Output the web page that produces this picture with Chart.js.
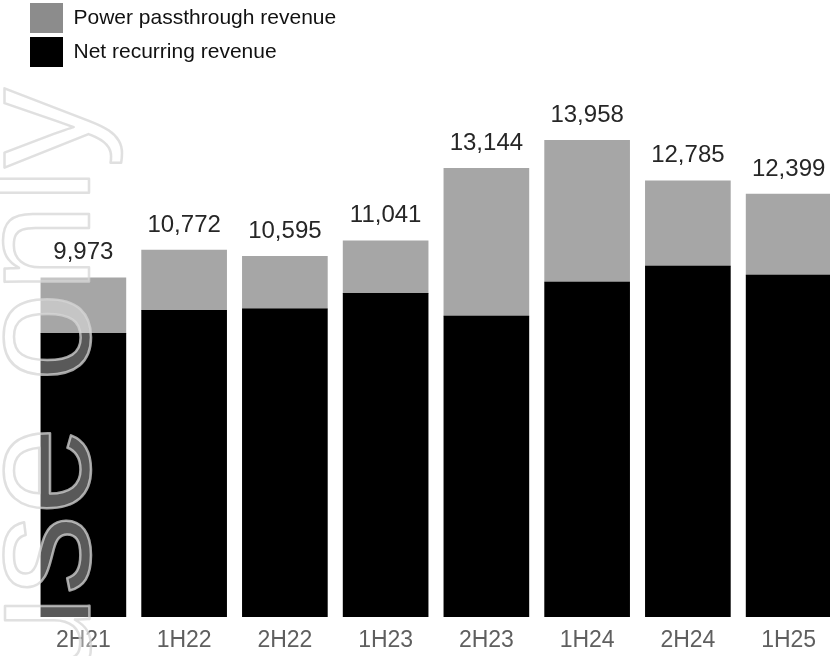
<!DOCTYPE html>
<html>
<head>
<meta charset="utf-8">
<script src="https://cdn.jsdelivr.net/npm/chart.js@4"></script>
<style>
  html, body { margin: 0; padding: 0; background: #fff; overflow: hidden; }
  .chart-wrap { position: relative; width: 840px; height: 656px; }
</style>
</head>
<body>
<div class="chart-wrap"><canvas class="chart-js"></canvas></div>
<script>
const canvas = document.querySelector('.chart-js').getContext('2d');

const periods = ['2H21', '1H22', '2H22', '1H23', '2H23', '1H24', '2H24', '1H25'];
const netRecurring = [8360, 9030, 9070, 9520, 8860, 9850, 10310, 10050];
const powerPassthrough = [1613, 1742, 1525, 1521, 4284, 4108, 2475, 2349];

const FONT = "'Liberation Sans', Arial, Helvetica, sans-serif";

// totals written above each stack
const totalLabels = {
  id: 'totalLabels',
  afterDatasetsDraw(chart) {
    const { ctx } = chart;
    const top = chart.getDatasetMeta(chart.data.datasets.length - 1);
    ctx.save();
    ctx.font = '24px ' + FONT;
    ctx.fillStyle = '#262626';
    ctx.textAlign = 'center';
    ctx.textBaseline = 'alphabetic';
    top.data.forEach((bar, i) => {
      const sum = chart.data.datasets.reduce((acc, ds) => acc + ds.data[i], 0);
      ctx.fillText(sum.toLocaleString('en-US'), bar.x, bar.y - 18.5);
    });
    ctx.restore();
  },
};

// legend sits inside the plot area, nudged to the left margin
const legendNudge = {
  id: 'legendNudge',
  afterLayout(chart) {
    const lg = chart.legend;
    if (!lg) return;
    lg.left -= 7;
    lg.right -= 7;
    lg.top -= 1;
    lg.bottom -= 1;
  },
};

const watermark = {
  id: 'watermark',
  afterDraw(chart) {
    const { ctx } = chart;
    ctx.save();
    ctx.translate(89, 88);
    ctx.rotate(-Math.PI / 2);
    ctx.font = '160px ' + FONT;
    ctx.textAlign = 'right';
    ctx.textBaseline = 'alphabetic';
    ctx.fillStyle = 'rgba(255, 255, 255, 0.35)';
    ctx.strokeStyle = 'rgba(214, 214, 214, 0.75)';
    ctx.lineWidth = 2.5;
    ctx.lineJoin = 'round';
    ctx.fillText('use only', 0, 0);
    ctx.strokeText('use only', 0, 0);
    ctx.restore();
  },
};

new Chart(canvas, {
  type: 'bar',
  data: {
    labels: periods,
    datasets: [
      {
        label: 'Net recurring revenue',
        data: netRecurring,
        backgroundColor: '#000000',
        borderWidth: 0,
        barThickness: 85,
      },
      {
        label: 'Power passthrough revenue',
        data: powerPassthrough,
        backgroundColor: '#a6a6a6',
        borderWidth: 0,
        barThickness: 85,
      },
    ],
  },
  options: {
    responsive: true,
    maintainAspectRatio: false,
    animation: false,
    layout: { padding: { left: 33, right: 1, top: 0, bottom: 0 } },
    plugins: {
      tooltip: { enabled: false },
      legend: {
        position: 'chartArea',
        align: 'start',
        reverse: true,
        labels: {
          boxWidth: 33,
          boxHeight: 30,
          padding: 4,
          color: '#111111',
          font: { family: FONT, size: 21 },
          generateLabels(chart) {
            const items = Chart.defaults.plugins.legend.labels.generateLabels(chart);
            items.forEach(item => {
              if (item.datasetIndex === 1) item.fillStyle = '#8c8c8c';
            });
            return items;
          },
        },
      },
    },
    scales: {
      x: {
        stacked: true,
        grid: { display: false, drawTicks: false },
        border: { display: false },
        ticks: {
          color: '#5f5f5f',
          font: { family: FONT, size: 23 },
          padding: 10,
        },
        afterFit(scale) {
          scale.height = 39;
        },
      },
      y: {
        stacked: true,
        display: false,
        min: 133,
        max: 18028,
      },
    },
  },
  plugins: [totalLabels, legendNudge, watermark],
});
</script>
</body>
</html>
